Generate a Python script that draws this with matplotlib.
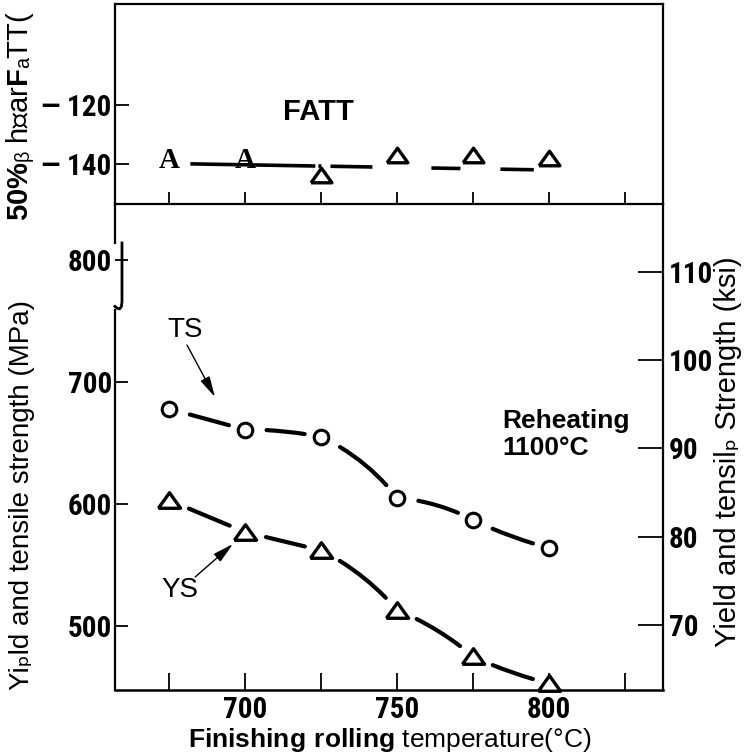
import matplotlib
matplotlib.use("Agg")
import matplotlib.pyplot as plt
from matplotlib import font_manager

# finishing rolling temperature (C)
temps = [675, 700, 725, 750, 775, 800]
ts_mpa = [678, 661, 655, 605, 587, 564]
ys_mpa = [603, 577, 562, 513, 475, 453]
fatt = [-138.8, -138.8, -143.7, -137.0, -137.0, -137.9]
fatt_fit_x = [682, 795]
fatt_fit_y = [-140.0, -142.0]

x_ticks = [700, 750, 800]
x_minor = [675, 725, 775, 825]
mpa_ticks = [500, 600, 700, 800]
ksi_ticks = [70, 80, 90, 100, 110]
fatt_ticks = [-140, -120]

# narrow bold face for the numbers, if one is installed
names = {f.name for f in font_manager.fontManager.ttflist}
NARROW, NSIZE = 'Liberation Sans', 18.5
for fam, size in [('Liberation Sans Narrow', 22.5), ('Roboto Condensed', 21),
                  ('Open Sans Condensed', 21)]:
    if fam in names:
        NARROW, NSIZE = fam, size
        break
SANS = ['Liberation Sans', 'DejaVu Sans']

plt.rcParams['lines.scale_dashes'] = False
plt.rcParams['mathtext.fontset'] = 'custom'
plt.rcParams['mathtext.bf'] = 'Liberation Sans:bold'
plt.rcParams['mathtext.rm'] = 'Liberation Sans'

tick_font = dict(fontsize=NSIZE, fontfamily=NARROW, fontweight='bold')
tri = [(-1, -0.7), (1, -0.7), (0, 0.7), (-1, -0.7)]


def dashed_curve(ax, xs, ys, rads, sa=15.5, sb=12):
    # one dash between each pair of markers
    for i in range(len(xs) - 1):
        ax.annotate('', xy=(xs[i + 1], ys[i + 1]), xytext=(xs[i], ys[i]),
                    arrowprops=dict(arrowstyle='-', lw=3.0, color='black',
                                    shrinkA=sa, shrinkB=sb, capstyle='round',
                                    connectionstyle='arc3,rad=%s' % rads[i]))


fig = plt.figure(figsize=(7.5, 7.56), dpi=100)
ax = fig.add_axes([0.1533, 0.0873, 0.7307, 0.6429])
ax_top = fig.add_axes([0.1533, 0.7302, 0.7307, 0.2645])
ax_r = ax.twinx()

# ---- bottom panel: strengths
ax.set_xlim(657.2, 837.5)
ax.set_ylim(447.5, 846)
dashed_curve(ax, temps, ts_mpa, [0, -0.05, -0.12, -0.1, 0.05])
dashed_curve(ax, temps, ys_mpa, [0, 0, -0.1, -0.08, 0.05])
ax.plot(temps, ts_mpa, ls='none', marker='o', ms=10.5, mfc='white',
        mec='black', mew=2.2, zorder=3)
ax.plot(temps, ys_mpa, ls='none', marker=tri, ms=16, mfc='white',
        mec='black', mew=2.4, zorder=3, clip_on=False)

ax.set_xticks(x_ticks, [str(t) for t in x_ticks], **tick_font)
ax.set_xticks(x_minor, minor=True)
ax.set_yticks(mpa_ticks, [str(t) for t in mpa_ticks], **tick_font)
ax.tick_params(axis='x', which='both', direction='in', length=12, width=1.3, pad=4)
ax.tick_params(axis='y', direction='in', length=9.5, width=1.3, pad=2)

for s in ['left', 'right', 'top']:
    ax.spines[s].set_visible(False)
ax.spines['bottom'].set_linewidth(1.8)

# left spine with the axis break near 800
yt = ax.get_yaxis_transform()
ax.plot([0, 0], [447.5, 759], transform=yt, color='k', lw=1.6, clip_on=False)
ax.plot([0, 0], [814, 846], transform=yt, color='k', lw=1.6, clip_on=False)
ax.plot([0.0128, 0.0128, 0.0118, 0.0085, 0.004, 0.0],
        [814, 766, 762, 760, 760.5, 762], transform=yt, color='k', lw=2.0,
        clip_on=False)

ax.text(680.3, 743, 'TS', fontsize=20, family=SANS, ha='center', va='center')
ax.annotate('', xy=(690.1, 687.7), xytext=(680.9, 730.3),
            arrowprops=dict(arrowstyle='-|>,head_length=0.9,head_width=0.22',
                            lw=1.0, color='black', mutation_scale=14,
                            shrinkA=0, shrinkB=0))
ax.text(678.6, 529.5, 'YS', fontsize=20, family=SANS, ha='center', va='center')
ax.annotate('', xy=(696, 567.2), xytext=(683.6, 540.2),
            arrowprops=dict(arrowstyle='-|>,head_length=0.9,head_width=0.22',
                            lw=1.0, color='black', mutation_scale=14,
                            shrinkA=0, shrinkB=0))
ax.text(784.5, 678, 'Reheating\n1100°C', fontsize=19, family=SANS,
        fontweight='bold', ha='left', va='top', linespacing=1.15)

# ---- right ksi axis
ax_r.set_ylim(62.6, 117.7)
ax_r.set_yticks(ksi_ticks, [str(t) for t in ksi_ticks], **tick_font)
ax_r.tick_params(axis='y', direction='in', length=18, width=1.3, pad=4)
for s in ['left', 'top', 'bottom']:
    ax_r.spines[s].set_visible(False)
ax_r.spines['right'].set_linewidth(1.6)

# ---- top panel: FATT
ax_top.set_xlim(657.2, 837.5)
ax_top.set_ylim(-153.6, -85.8)
ax_top.plot(fatt_fit_x, fatt_fit_y, color='black', lw=2.6,
            dashes=[90, 2.2, 2.2, 6.5, 30.2, 42.5, 20.9, 28.8, 25.2, 100])
for x, y in zip(temps[:2], fatt[:2]):
    ax_top.text(x, y, 'A', fontsize=21, family=['Liberation Serif', 'DejaVu Serif'],
                fontweight='bold', ha='center', va='center')
ax_top.plot(temps[2:], fatt[2:], ls='none', marker=tri, ms=15, mfc='white',
            mec='black', mew=2.4, zorder=3)
ax_top.text(724, -122.4, 'FATT', fontsize=21, family=SANS, fontweight='bold',
            ha='center', va='center')

ax_top.set_xticks([675, 700, 725, 750, 775, 800, 825])
ax_top.set_xticklabels([])
ax_top.set_yticks(fatt_ticks, ['\u2014 ' + str(-t) for t in fatt_ticks], **tick_font)
ax_top.tick_params(axis='x', direction='in', length=9, width=1.3)
ax_top.tick_params(axis='y', direction='in', length=10, width=1.3, pad=3)
for s in ax_top.spines.values():
    s.set_linewidth(1.6)

# ---- axis titles
fig.text(20 / 750, 1 - 116 / 756, r'$\mathbf{50\%}$ᵦ hₚar$\mathbf{F}$ₐTT(',
         rotation=90, ha='center', va='center', fontsize=21, family=SANS)
fig.text(22 / 750, 1 - 495 / 756, 'Yiₚld and tensile strength (MPa)',
         rotation=90, ha='center', va='center', fontsize=20, family=SANS)
fig.text(728 / 750, 1 - 452 / 756, 'Yield and tensilₚ Strength (ksi)',
         rotation=90, ha='center', va='center', fontsize=21, family=SANS)
fig.text(390 / 750, 1 - 747 / 756, r'$\mathbf{Finishing\ rolling}$ temperature(°C)',
         ha='center', va='baseline', fontsize=19, family=SANS)

fig.savefig('out.png', dpi=100)
